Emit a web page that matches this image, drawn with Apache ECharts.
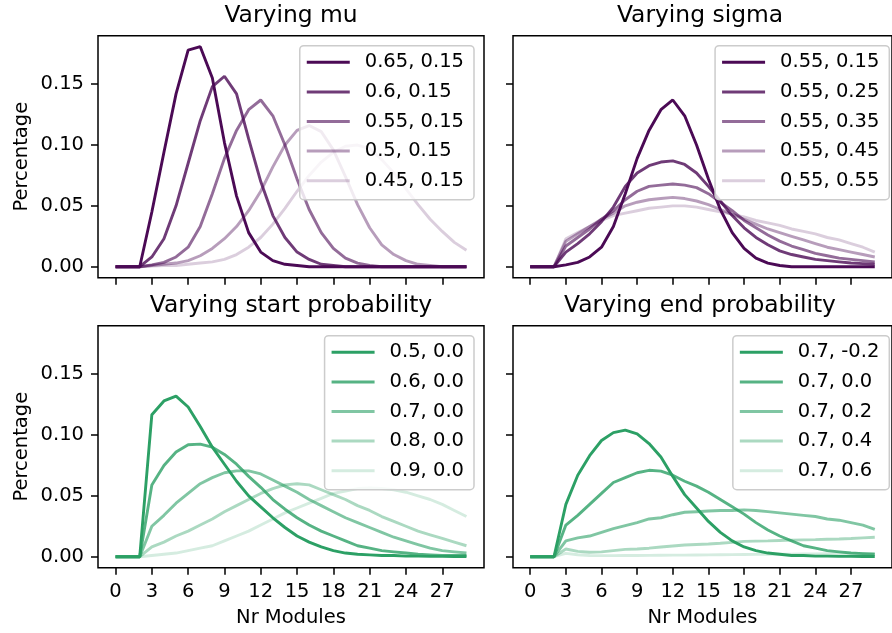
<!DOCTYPE html>
<html>
<head>
<meta charset="utf-8">
<script src="https://cdn.jsdelivr.net/npm/echarts@6.0.0/dist/echarts.min.js"></script>
<style>
html,body{margin:0;padding:0;background:#fff;}
#main{width:892px;height:633px;}
</style>
</head>
<body>
<div id="main"></div>
<script>
//横轴：模块数 0..29
var xVals = [0,1,2,3,4,5,6,7,8,9,10,11,12,13,14,15,16,17,18,19,20,21,22,23,24,25,26,27,28,29];
var xTicks = [0,3,6,9,12,15,18,21,24,27];
var yTicks = [0,0.05,0.1,0.15];
var titles = ['Varying mu','Varying sigma','Varying start probability','Varying end probability'];

//第1幅：Varying mu
var muNames = ['0.65, 0.15','0.6, 0.15','0.55, 0.15','0.5, 0.15','0.45, 0.15'];
var mu065 = [0,0,0,0.045,0.094,0.142,0.178,0.1808,0.155,0.102,0.058,0.028,0.012,0.005,0.002,0.001,0,0,0,0,0,0,0,0,0,0,0,0,0,0];
var mu060 = [0,0,0,0.008,0.023,0.05,0.085,0.12,0.148,0.1565,0.142,0.105,0.07,0.042,0.024,0.012,0.006,0.002,0.001,0,0,0,0,0,0,0,0,0,0,0];
var mu055 = [0,0,0,0.0015,0.0035,0.008,0.016,0.033,0.06,0.089,0.112,0.129,0.137,0.124,0.1,0.072,0.047,0.028,0.015,0.007,0.003,0.001,0,0,0,0,0,0,0,0];
var mu050 = [0,0,0,0.001,0.002,0.003,0.005,0.009,0.015,0.023,0.033,0.046,0.062,0.082,0.1,0.112,0.116,0.111,0.096,0.074,0.051,0.032,0.018,0.01,0.005,0.002,0.001,0,0,0];
var mu045 = [0,0,0,0.0005,0.001,0.001,0.002,0.003,0.004,0.006,0.01,0.016,0.024,0.035,0.048,0.062,0.075,0.086,0.094,0.099,0.1,0.097,0.088,0.077,0.064,0.051,0.039,0.029,0.02,0.0135];

//第2幅：Varying sigma
var sigNames = ['0.55, 0.15','0.55, 0.25','0.55, 0.35','0.55, 0.45','0.55, 0.55'];
var sig015 = [0,0,0,0.0015,0.0035,0.008,0.016,0.033,0.06,0.089,0.112,0.129,0.137,0.124,0.1,0.072,0.047,0.028,0.015,0.007,0.003,0.001,0,0,0,0,0,0,0,0];
var sig025 = [0,0,0,0.012,0.019,0.027,0.037,0.049,0.066,0.077,0.083,0.086,0.087,0.084,0.077,0.066,0.054,0.042,0.032,0.024,0.018,0.013,0.01,0.008,0.006,0.005,0.004,0.003,0.0025,0.002];
var sig035 = [0,0,0,0.017,0.024,0.031,0.039,0.046,0.055,0.062,0.066,0.067,0.068,0.067,0.065,0.06,0.053,0.046,0.038,0.032,0.026,0.021,0.017,0.014,0.011,0.009,0.007,0.006,0.005,0.004];
var sig045 = [0,0,0,0.021,0.027,0.033,0.039,0.044,0.05,0.053,0.055,0.056,0.057,0.056,0.054,0.051,0.047,0.043,0.039,0.035,0.031,0.028,0.025,0.022,0.019,0.016,0.014,0.012,0.01,0.008];
var sig055 = [0,0,0,0.023,0.028,0.033,0.038,0.042,0.044,0.046,0.048,0.049,0.05,0.05,0.049,0.047,0.045,0.043,0.041,0.038,0.036,0.034,0.031,0.029,0.027,0.024,0.022,0.019,0.016,0.012];

//第3幅：Varying start probability
var startNames = ['0.5, 0.0','0.6, 0.0','0.7, 0.0','0.8, 0.0','0.9, 0.0'];
var st05 = [0,0,0,0.1167,0.128,0.132,0.123,0.107,0.09,0.076,0.062,0.05,0.041,0.032,0.024,0.017,0.012,0.008,0.005,0.003,0.002,0.0015,0.001,0.001,0.0005,0.0005,0.0003,0.0003,0.0002,0.0002];
var st06 = [0,0,0,0.059,0.075,0.086,0.092,0.0925,0.09,0.084,0.076,0.066,0.057,0.047,0.039,0.032,0.026,0.021,0.017,0.013,0.009,0.007,0.005,0.004,0.003,0.002,0.0015,0.001,0.001,0.001];
var st07 = [0,0,0,0.025,0.034,0.044,0.052,0.06,0.065,0.069,0.0705,0.0705,0.068,0.063,0.058,0.053,0.047,0.042,0.037,0.032,0.028,0.024,0.02,0.016,0.013,0.01,0.007,0.005,0.004,0.003];
var st08 = [0,0,0,0.008,0.012,0.017,0.021,0.026,0.031,0.037,0.042,0.047,0.052,0.056,0.059,0.06,0.059,0.055,0.051,0.047,0.042,0.038,0.033,0.029,0.025,0.021,0.018,0.015,0.012,0.009];
var st09 = [0,0,0,0.001,0.002,0.003,0.005,0.007,0.009,0.013,0.017,0.021,0.026,0.031,0.036,0.04,0.044,0.048,0.052,0.054,0.056,0.0566,0.056,0.055,0.053,0.05,0.047,0.043,0.038,0.033];

//第4幅：Varying end probability
var endNames = ['0.7, -0.2','0.7, 0.0','0.7, 0.2','0.7, 0.4','0.7, 0.6'];
var enM02 = [0,0,0,0.043,0.067,0.083,0.0955,0.102,0.104,0.101,0.093,0.082,0.066,0.051,0.04,0.029,0.02,0.013,0.008,0.005,0.003,0.002,0.001,0.001,0.0005,0.0005,0.0003,0.0003,0.0002,0.0002];
var en00 = [0,0,0,0.026,0.034,0.043,0.052,0.061,0.065,0.069,0.071,0.0703,0.067,0.062,0.058,0.053,0.047,0.041,0.035,0.028,0.022,0.017,0.013,0.009,0.007,0.005,0.004,0.003,0.0025,0.002];
var en02 = [0,0,0,0.013,0.0155,0.017,0.02,0.023,0.0255,0.028,0.031,0.032,0.0345,0.0365,0.037,0.0375,0.038,0.038,0.0385,0.038,0.037,0.036,0.035,0.034,0.033,0.031,0.03,0.028,0.026,0.0225];
var en04 = [0,0,0,0.0063,0.0044,0.0036,0.004,0.005,0.006,0.0063,0.007,0.008,0.0088,0.0096,0.01,0.0104,0.011,0.0118,0.0126,0.0128,0.013,0.0133,0.0136,0.0138,0.014,0.0143,0.0146,0.015,0.0155,0.016];
var en06 = [0,0,0,0.0027,0.0016,0.001,0.0009,0.0009,0.001,0.001,0.0011,0.0012,0.0013,0.0013,0.0014,0.0015,0.0016,0.0017,0.0018,0.0019,0.002,0.002,0.0021,0.0022,0.0023,0.0024,0.0025,0.0025,0.0026,0.0027];

var alphas = [1,0.8,0.6,0.4,0.2];
var purple = '75,10,85';
var green  = '44,160,101';
var font = 'DejaVu Sans';

var panels = [
	{names: muNames,    rows: [mu065,mu060,mu055,mu050,mu045],      rgb: purple},
	{names: sigNames,   rows: [sig015,sig025,sig035,sig045,sig055], rgb: purple},
	{names: startNames, rows: [st05,st06,st07,st08,st09],           rgb: green},
	{names: endNames,   rows: [enM02,en00,en02,en04,en06],          rgb: green}
];
//各子图位置（右列比画布宽，右边框在画面外）
var gridPos = [
	{left: 98,  top: 35.7,  width: 386, height: 242},
	{left: 513, top: 35.7,  width: 387, height: 242},
	{left: 98,  top: 325.7, width: 386, height: 242},
	{left: 513, top: 325.7, width: 387, height: 242}
];

var chart = echarts.init(document.getElementById('main'), null, {renderer: 'canvas'});
var grid = [], xAxis = [], yAxis = [], series = [], legend = [], title = [];

for (var p = 0; p < 4; p++) {
	var g = gridPos[p];
	var isLeft = (p % 2 == 0), isBottom = (p >= 2);
	grid.push({left: g.left, top: g.top, width: g.width, height: g.height,
		show: true, borderColor: '#000', borderWidth: 1.5, backgroundColor: 'transparent'});
	title.push({text: titles[p], left: isLeft ? 291 : 700, top: g.top - 31, textAlign: 'center', padding: 0,
		textStyle: {fontFamily: font, fontSize: 23.4, fontWeight: 'normal', color: '#000'}});
	xAxis.push({type: 'value', gridIndex: p, min: -1.45, max: 30.45,
		name: isBottom ? 'Nr Modules' : '', nameLocation: 'middle', nameGap: 40,
		nameTextStyle: {fontFamily: font, fontSize: 19.5, color: '#000'},
		axisLine: {show: false, onZero: false}, splitLine: {show: false},
		axisTick: {show: true, length: 7, customValues: xTicks, lineStyle: {color: '#000', width: 1.5}},
		axisLabel: {show: isBottom, customValues: xTicks, margin: 14, fontFamily: font, fontSize: 19.5, color: '#000'}});
	yAxis.push({type: 'value', gridIndex: p, min: -0.00904, max: 0.18984,
		name: isLeft ? 'Percentage' : '', nameLocation: 'middle', nameGap: 66,
		nameTextStyle: {fontFamily: font, fontSize: 19.5, color: '#000'},
		axisLine: {show: false, onZero: false}, splitLine: {show: false},
		axisTick: {show: true, length: 7, customValues: yTicks, lineStyle: {color: '#000', width: 1.5}},
		axisLabel: {show: isLeft, customValues: yTicks, margin: 14, fontFamily: font, fontSize: 19.5, color: '#000',
			formatter: function (v) { return v.toFixed(2); }}});
	var legendData = [];
	for (var k = 0; k < 5; k++) {
		var sname = 'p' + p + '|' + panels[p].names[k];
		legendData.push({name: sname, icon: 'rect'});
		var col = 'rgba(' + panels[p].rgb + ',' + alphas[k] + ')';
		var row = panels[p].rows[k];
		series.push({name: sname, type: 'line', xAxisIndex: p, yAxisIndex: p,
			symbol: 'none', silent: true, animation: false,
			lineStyle: {color: col, width: 2.9}, itemStyle: {color: col},
			data: xVals.map(function (x, i) { return [x, row[i]]; })});
	}
	legend.push({data: legendData, orient: 'vertical', selectedMode: false,
		right: isLeft ? 418 : 2.7, top: g.top + 10,
		itemWidth: 43, itemHeight: 3, itemGap: 9.6, padding: [6.6, 10, 9, 7],
		backgroundColor: 'rgba(255,255,255,0.8)', borderColor: '#cccccc', borderWidth: 1.5, borderRadius: 4,
		textStyle: {fontFamily: font, fontSize: 19.5, color: '#000', lineHeight: 20, padding: [0, 0, 0, 10]},
		formatter: function (name) { return name.split('|')[1]; }});
}

chart.setOption({
	animation: false,
	backgroundColor: '#fff',
	title: title, grid: grid, xAxis: xAxis, yAxis: yAxis, legend: legend, series: series
});
</script>
</body>
</html>
